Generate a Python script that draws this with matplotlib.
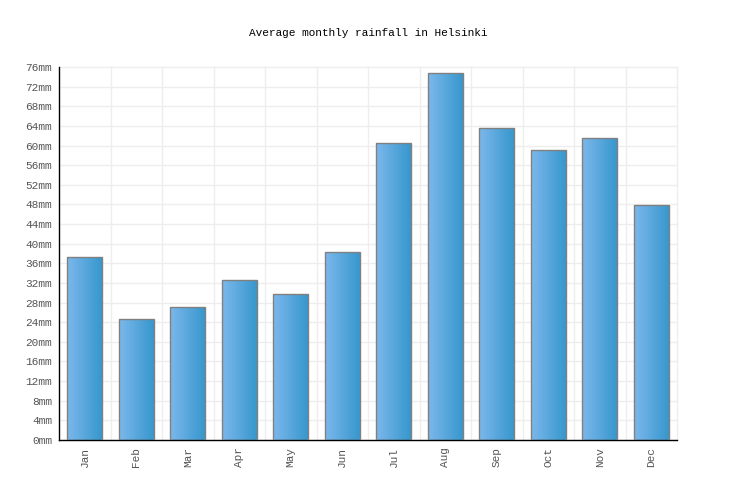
import numpy as np
import matplotlib
matplotlib.use("Agg")
import matplotlib.pyplot as plt
from matplotlib.colors import LinearSegmentedColormap
from matplotlib.patches import Rectangle

# === DATA ===
months = ["Jan", "Feb", "Mar", "Apr", "May", "Jun",
          "Jul", "Aug", "Sep", "Oct", "Nov", "Dec"]
rainfall = [37.3, 24.7, 27.1, 32.6, 29.7, 38.3,
            60.5, 74.8, 63.6, 59.1, 61.5, 47.9]
yticks = list(range(0, 77, 4))
ytick_labels = [f"{v}mm" for v in yticks]

FONT = "Liberation Mono"
bar_w = 0.67
grad = LinearSegmentedColormap.from_list("rain", ["#7cb8ec", "#3797cd"])

fig = plt.figure(figsize=(7.36, 5.0), dpi=100)
ax = fig.add_axes([59 / 736, 60 / 500, 618 / 736, 373 / 500])

x = np.arange(len(months))
bars = ax.bar(x, rainfall, width=bar_w, color="none",
              edgecolor="#808080", linewidth=1.0, zorder=3)

# gradient fill per bar
g = np.linspace(0, 1, 256).reshape(1, -1)
for b in bars:
    x0, y0 = b.get_x(), b.get_y()
    w, h = b.get_width(), b.get_height()
    im = ax.imshow(g, cmap=grad, aspect="auto", extent=[x0, x0 + w, y0, y0 + h],
                   zorder=2, interpolation="bicubic")
    clip = Rectangle((x0, y0), w, h, transform=ax.transData)
    im.set_clip_path(clip)

ax.set_xlim(-0.5, len(months) - 0.5)
ax.set_ylim(0, 76)

ax.set_yticks(yticks)
ax.set_yticklabels(ytick_labels, family=FONT, fontsize=8, color="#555555")
ax.set_xticks(x)
ax.set_xticklabels(months, rotation=90, family=FONT, fontsize=8, color="#555555")
ax.tick_params(length=0, pad=5)

# grid: horizontal at ticks, vertical at category boundaries (incl. right edge)
for v in yticks:
    ax.axhline(v, color="#eeeeee", linewidth=1, zorder=0, clip_on=False)
for b in np.arange(0.5, len(months), 1.0):
    ax.axvline(b, color="#eeeeee", linewidth=1, zorder=0, clip_on=False)

for s in ["top", "right"]:
    ax.spines[s].set_visible(False)
ax.spines["left"].set_color("black")
ax.spines["bottom"].set_color("black")
ax.spines["left"].set_linewidth(1)
ax.spines["bottom"].set_linewidth(1)

fig.text(0.5, 1 - 33 / 500, "Average monthly rainfall in Helsinki",
         ha="center", va="center", family=FONT, fontsize=8, color="black")

fig.savefig("out.png", dpi=100)
